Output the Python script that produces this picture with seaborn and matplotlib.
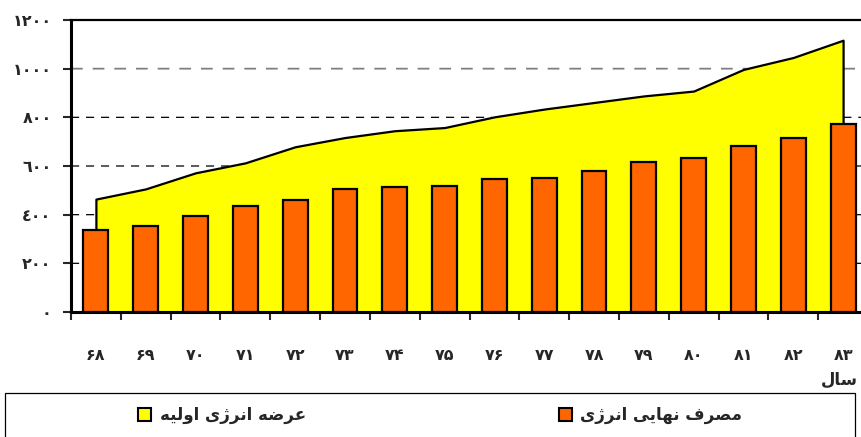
import matplotlib
matplotlib.use("Agg")
import numpy as np
import matplotlib.pyplot as plt
from matplotlib.patches import Rectangle
import seaborn as sns

# داده ها (سال های ۶۸ تا ۸۳)
years = ["۶۸", "۶۹", "۷۰", "۷۱", "۷۲", "۷۳", "۷۴", "۷۵",
         "۷۶", "۷۷", "۷۸", "۷۹", "۸۰", "۸۱", "۸۲", "۸۳"]
supply = [464, 506, 572, 613, 679, 717, 745, 758,
          802, 834, 861, 888, 908, 997, 1046, 1117]
consumption = [338, 354, 395, 434, 459, 505, 513, 519,
               548, 552, 580, 615, 632, 684, 717, 771]
y_ticks = [0, 200, 400, 600, 800, 1000, 1200]
y_labels = ["٠", "٢٠٠", "٤٠٠", "٦٠٠", "٨٠٠", "١٠٠٠", "١٢٠٠"]
supply_name = "عرضه انرژی اولیه"
consumption_name = "مصرف نهایی انرژی"
x_title = "سال"

# matplotlib حروف عربی را به هم نمی چسباند، پس شکل ها را دستی می سازیم
FORMS = {
    "ا": ("\uFE8D", "\uFE8E", None, None),
    "ر": ("\uFEAD", "\uFEAE", None, None),
    "ژ": ("\uFB8A", "\uFB8B", None, None),
    "و": ("\uFEED", "\uFEEE", None, None),
    "ع": ("\uFEC9", "\uFECA", "\uFECB", "\uFECC"),
    "ض": ("\uFEBD", "\uFEBE", "\uFEBF", "\uFEC0"),
    "ه": ("\uFEE9", "\uFEEA", "\uFEEB", "\uFEEC"),
    "ن": ("\uFEE5", "\uFEE6", "\uFEE7", "\uFEE8"),
    "ی": ("\uFBFC", "\uFBFD", "\uFBFE", "\uFBFF"),
    "ل": ("\uFEDD", "\uFEDE", "\uFEDF", "\uFEE0"),
    "م": ("\uFEE1", "\uFEE2", "\uFEE3", "\uFEE4"),
    "ص": ("\uFEB9", "\uFEBA", "\uFEBB", "\uFEBC"),
    "ف": ("\uFED1", "\uFED2", "\uFED3", "\uFED4"),
    "س": ("\uFEB1", "\uFEB2", "\uFEB3", "\uFEB4"),
}


def shape(text):
    out = []
    for i, ch in enumerate(text):
        if ch not in FORMS:
            out.append(ch)
            continue
        prev = text[i - 1] if i > 0 else ""
        nxt = text[i + 1] if i + 1 < len(text) else ""
        join_prev = prev in FORMS and FORMS[prev][2] is not None
        join_next = nxt in FORMS and FORMS[ch][2] is not None
        iso, fin, ini, med = FORMS[ch]
        if join_prev and join_next:
            out.append(med)
        elif join_prev:
            out.append(fin)
        elif join_next:
            out.append(ini)
        else:
            out.append(iso)
    return "".join(reversed(out))


sns.set_style("white")
plt.rcParams["font.family"] = ["DejaVu Sans"]
plt.rcParams["font.weight"] = "bold"

fig = plt.figure(figsize=(8.62, 4.37), dpi=100)
ax = fig.add_axes([71 / 862, 1 - 312 / 437, 797 / 862, 292 / 437])

pos = list(range(len(years)))
bar_w = 0.5

# خطوط راهنما فقط در جاهایی که زیر ناحیه یا ستون ها نیستند
xs = np.linspace(-0.5, len(years) - 0.5, 4001)
cover = np.interp(xs, pos, supply, left=0, right=0)
for p, c in zip(pos, consumption):
    inside = np.abs(xs - p) <= bar_w / 2
    cover[inside] = np.maximum(cover[inside], c)
for v in y_ticks[1:-1]:
    ys = np.where(cover < v, v, np.nan)
    if v == 1000:
        ax.plot(xs, ys, color="#808080", linewidth=1.3, linestyle=(0, (6.5, 5.5)), zorder=0.2)
    else:
        ax.plot(xs, ys, color="black", linewidth=0.9, linestyle=(0, (6.5, 5.5)), zorder=0.2)

# ناحیه عرضه انرژی
ax.fill_between(pos, supply, 0, facecolor="#FFFF00", edgecolor="black",
                linewidth=1.6, zorder=1)

# ستون های مصرف
sns.barplot(x=years, y=consumption, color="#FF6600", width=bar_w,
            edgecolor="black", linewidth=1.6, saturation=1, errorbar=None,
            ax=ax, zorder=3)

ax.set_xlim(-0.5, len(years) - 0.5)
ax.set_ylim(0, 1200)

ax.set_yticks(y_ticks)
ax.set_yticklabels(y_labels, fontsize=11.5, fontweight="bold")
ax.tick_params(axis="y", length=6, width=1.5, pad=8, left=True)

# تیک ها بین دسته ها، برچسب ها در وسط
ax.set_xticks([p - 0.5 for p in pos])
ax.set_xticklabels([])
ax.set_xticks(pos, minor=True)
ax.set_xticklabels(years, minor=True, fontsize=11.5, fontweight="bold")
ax.tick_params(axis="x", which="major", length=6, width=1.5, bottom=True)
ax.tick_params(axis="x", which="minor", length=0, pad=26)
ax.grid(False)
ax.set_xlabel("")

for s in ["left", "bottom"]:
    ax.spines[s].set_linewidth(2.2)
    ax.spines[s].set_color("black")
ax.spines["top"].set_linewidth(1.6)
ax.spines["top"].set_color("black")
ax.spines["right"].set_visible(False)

fig.text(858 / 862, 1 - 380 / 437, shape(x_title), ha="right", va="center",
         fontsize=12, fontweight="bold")

# راهنما
fig.patches.append(Rectangle((5 / 862, -0.05), 850 / 862, 0.05 + 44 / 437,
                             transform=fig.transFigure, facecolor="white",
                             edgecolor="black", linewidth=0.9))
fig.patches.append(Rectangle((138 / 862, 1 - 421 / 437), 13 / 862, 13 / 437,
                             transform=fig.transFigure, facecolor="#FFFF00",
                             edgecolor="black", linewidth=1.5))
fig.patches.append(Rectangle((559 / 862, 1 - 421 / 437), 13 / 862, 13 / 437,
                             transform=fig.transFigure, facecolor="#FF6600",
                             edgecolor="black", linewidth=1.5))
fig.text(160 / 862, 1 - 415 / 437, shape(supply_name), ha="left", va="center",
         fontsize=12, fontweight="bold")
fig.text(580 / 862, 1 - 415 / 437, shape(consumption_name), ha="left", va="center",
         fontsize=12, fontweight="bold")

fig.savefig("out.png", dpi=100)
